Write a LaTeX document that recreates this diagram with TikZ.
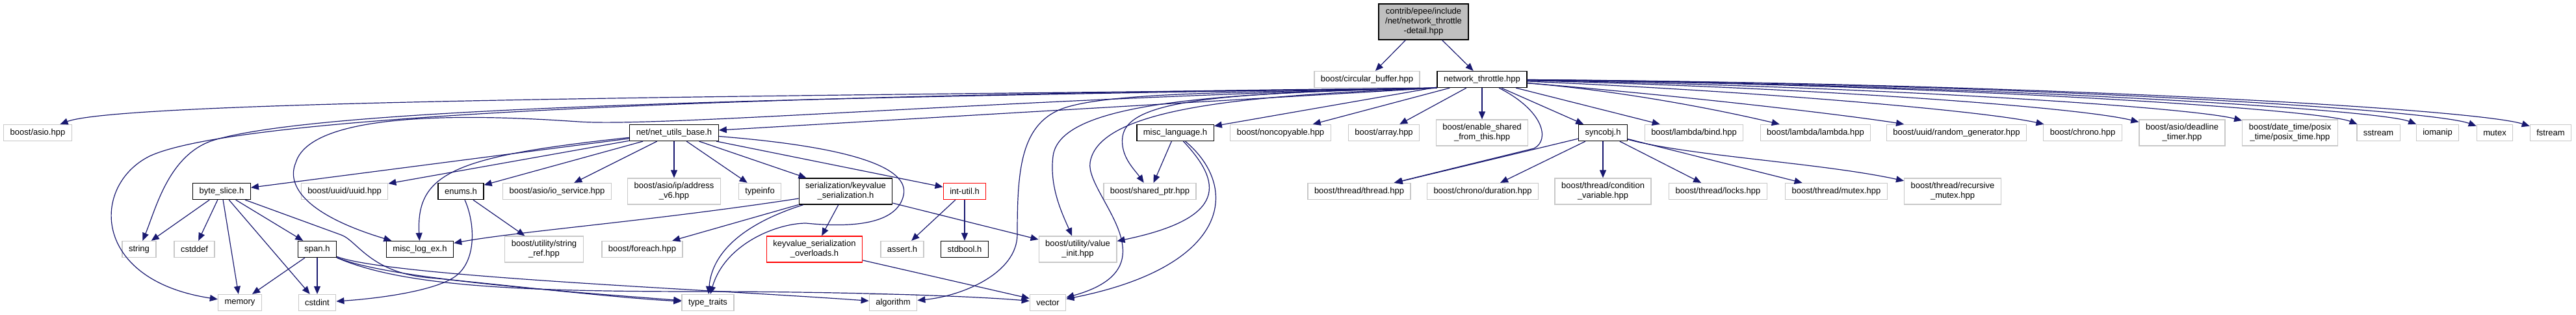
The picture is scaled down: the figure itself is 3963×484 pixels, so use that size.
\documentclass[tikz,border=0pt]{standalone}
\usepackage{fontspec}
\setmainfont{Liberation Sans}
\usepackage{xcolor}
\usepackage{tikz}
\usetikzlibrary{shapes,arrows.meta,positioning}
\definecolor{edgeblue}{RGB}{25,25,112}
\definecolor{sysframe}{RGB}{200,200,200}
\definecolor{mainfill}{RGB}{191,191,191}
\tikzset{
    file/.style = {rectangle, draw=sysframe, line width=1.3pt, fill=white, inner xsep=10pt, inner ysep=0pt, minimum height=25pt, align=center, font=\fontsize{13}{15}\selectfont},
    docfile/.style = {file, draw=black},
    cutfile/.style = {file, draw=red},
    topfile/.style = {file, draw=black, fill=mainfill, minimum height=55pt},
    two/.style = {minimum height=40pt},
    inc/.style = {->, draw=edgeblue, line width=1.2pt}
}

\begin{document}
\begin{tikzpicture}[x=1pt, y=-1pt, >={Triangle[length=12pt,width=10pt]}]
    \useasboundingbox (0,0) rectangle (3963,484);

    % Nodes
    \node [topfile] (main) at (2190,33.5) {contrib/epee/include\\/net/network\_throttle\\-detail.hpp};
    \node [file] (circbuf) at (2103,122) {boost/circular\_buffer.hpp};
    \node [docfile] (nt) at (2280,122) {network\_throttle.hpp};

    \node [file] (asio) at (58,204) {boost/asio.hpp};
    \node [docfile] (nub) at (1037,204) {net/net\_utils\_base.h};
    \node [docfile] (mlang) at (1808,204) {misc\_language.h};
    \node [file] (noncopy) at (1970,204) {boost/noncopyable.hpp};
    \node [file] (array) at (2129,204) {boost/array.hpp};
    \node [file, two] (esft) at (2280,204) {boost/enable\_shared\\\_from\_this.hpp};
    \node [docfile] (sync) at (2466,204) {syncobj.h};
    \node [file] (lbind) at (2606,204) {boost/lambda/bind.hpp};
    \node [file] (llambda) at (2793,204) {boost/lambda/lambda.hpp};
    \node [file] (uuidgen) at (3010,204) {boost/uuid/random\_generator.hpp};
    \node [file] (chrono) at (3204,204) {boost/chrono.hpp};
    \node [file, two] (deadline) at (3357,204) {boost/asio/deadline\\\_timer.hpp};
    \node [file, two] (posix) at (3523,204) {boost/date\_time/posix\\\_time/posix\_time.hpp};
    \node [file] (sstream) at (3659,204) {sstream};
    \node [file] (iomanip) at (3750,204) {iomanip};
    \node [file] (mutex) at (3838,204) {mutex};
    \node [file] (fstream) at (3924,204) {fstream};

    \node [docfile] (byteslice) at (341,294) {byte\_slice.h};
    \node [file] (uuid) at (530,294) {boost/uuid/uuid.hpp};
    \node [docfile] (enums) at (709,294) {enums.h};
    \node [file] (ioserv) at (857,294) {boost/asio/io\_service.hpp};
    \node [file, two] (addr6) at (1037,294) {boost/asio/ip/address\\\_v6.hpp};
    \node [file] (typeinfo) at (1169,294) {typeinfo};
    \node [docfile, two] (kvser) at (1301,294) {serialization/keyvalue\\\_serialization.h};
    \node [cutfile] (intutil) at (1484,294) {int-util.h};
    \node [file] (sharedptr) at (1769,294) {boost/shared\_ptr.hpp};
    \node [file] (thread) at (2091,294) {boost/thread/thread.hpp};
    \node [file] (duration) at (2281,294) {boost/chrono/duration.hpp};
    \node [file, two] (condvar) at (2466,294) {boost/thread/condition\\\_variable.hpp};
    \node [file] (locks) at (2643,294) {boost/thread/locks.hpp};
    \node [file] (tmutex) at (2825,294) {boost/thread/mutex.hpp};
    \node [file, two] (recmutex) at (3004,294) {boost/thread/recursive\\\_mutex.hpp};

    \node [file] (string) at (214,383) {string};
    \node [file] (cstddef) at (299,383) {cstddef};
    \node [docfile] (span) at (488,383) {span.h};
    \node [docfile] (misclog) at (646,383) {misc\_log\_ex.h};
    \node [file, two] (strref) at (837,383) {boost/utility/string\\\_ref.hpp};
    \node [file] (foreach) at (988,383) {boost/foreach.hpp};
    \node [cutfile, two] (kvover) at (1253,383) {keyvalue\_serialization\\\_overloads.h};
    \node [file] (assert) at (1388,383) {assert.h};
    \node [docfile] (stdbool) at (1484,383) {stdbool.h};
    \node [file, two] (valinit) at (1658,383) {boost/utility/value\\\_init.hpp};

    \node [file] (memory) at (369,465) {memory};
    \node [file] (cstdint) at (488,465) {cstdint};
    \node [file] (typetraits) at (1089,465) {type\_traits};
    \node [file] (algorithm) at (1374,465) {algorithm};
    \node [file] (vector) at (1612,465) {vector};

    % Arrows
    \draw [inc] (main) -- (circbuf);
    \draw [inc] (main) -- (nt);

    % network_throttle.hpp
    \draw [inc] (nt.south west) .. controls (1500,146) and (200,150) .. (asio);
    \draw [inc] (nt.south west) .. controls (1300,144) and (380,170) .. (230,240) .. controls (140,285) and (140,430) .. (memory);
    \draw [inc] (nt.south west) .. controls (1200,150) and (500,165) .. (330,215) .. controls (260,236) and (240,320) .. (string);
    \draw [inc] (nt.south west) .. controls (1600,148) and (1020,196) .. (890,187) .. controls (760,178) and (480,165) .. (455,250) .. controls (440,285) and (470,330) .. (misclog);
    \draw [inc] (nt.south west) -- (nub);
    \draw [inc] (nt.south west) .. controls (1950,142) and (1720,140) .. (1640,165) .. controls (1570,187) and (1565,260) .. (1565,360) .. controls (1565,420) and (1480,455) .. (algorithm);
    \draw [inc] (nt.south west) .. controls (1850,143) and (1630,160) .. (1620,240) .. controls (1614,288) and (1635,330) .. (valinit);
    \draw [inc] (nt.south west) .. controls (1950,146) and (1690,160) .. (1677,250) .. controls (1670,300) and (1810,410) .. (vector);
    \draw [inc] (nt.south west) .. controls (1900,143) and (1735,150) .. (1727,210) .. controls (1723,240) and (1745,260) .. (sharedptr);
    \draw [inc] (nt) -- (mlang);
    \draw [inc] (nt) -- (noncopy);
    \draw [inc] (nt) -- (array);
    \draw [inc] (nt) -- (esft);
    \draw [inc] (nt) .. controls (2375,170) and (2385,215) .. (2360,228) -- (thread);
    \draw [inc] (nt) -- (sync);
    \draw [inc] (nt) -- (lbind);
    \draw [inc] (nt) .. controls (2500,140) and (2650,170) .. (llambda);
    \draw [inc] (nt) .. controls (2600,148) and (2850,178) .. (uuidgen);
    \draw [inc] (nt) .. controls (2700,140) and (3050,170) .. (chrono);
    \draw [inc] (nt) .. controls (2800,135) and (3200,165) .. (deadline);
    \draw [inc] (nt) .. controls (2900,133) and (3370,165) .. (posix);
    \draw [inc] (nt) .. controls (3000,130) and (3570,168) .. (sstream);
    \draw [inc] (nt) .. controls (3050,130) and (3660,168) .. (iomanip);
    \draw [inc] (nt) .. controls (3100,128) and (3740,168) .. (mutex);
    \draw [inc] (nt) .. controls (3150,128) and (3810,168) .. (fstream);

    % net_utils_base.h
    \draw [inc] (nub) -- (byteslice);
    \draw [inc] (nub) -- (uuid);
    \draw [inc] (nub) .. controls (700,240) and (640,265) .. (misclog);
    \draw [inc] (nub) -- (enums);
    \draw [inc] (nub) -- (ioserv);
    \draw [inc] (nub) -- (addr6);
    \draw [inc] (nub) -- (typeinfo);
    \draw [inc] (nub) -- (kvser);
    \draw [inc] (nub) -- (intutil);
    \draw [inc] (nub) .. controls (1300,225) and (1400,255) .. (1390,300) .. controls (1380,345) and (1310,350) .. (1240,343) .. controls (1195,343) and (1115,375) .. (typetraits);

    % byte_slice.h and span.h
    \draw [inc] (byteslice) -- (string);
    \draw [inc] (byteslice) -- (cstddef);
    \draw [inc] (byteslice) -- (memory);
    \draw [inc] (byteslice) -- (cstdint);
    \draw [inc] (byteslice) -- (span);
    \draw [inc] (byteslice) -- (525,361) .. controls (550,370) and (570,420) .. (663,427) .. controls (740,434) and (950,458) .. (typetraits);
    \draw [inc] (span) -- (memory);
    \draw [inc] (span) -- (cstdint);
    \draw [inc] (span) .. controls (600,430) and (900,450) .. (typetraits);
    \draw [inc] (span) .. controls (600,425) and (1100,445) .. (algorithm);
    \draw [inc] (span) .. controls (620,440) and (800,448) .. (1080,448) .. controls (1300,448) and (1500,455) .. (vector);

    % enums.h
    \draw [inc] (enums) -- (strref);
    \draw [inc] (enums) .. controls (730,340) and (735,400) .. (700,425) .. controls (670,446) and (590,458) .. (cstdint);

    % keyvalue_serialization.h
    \draw [inc] (kvser) .. controls (1000,340) and (800,355) .. (misclog);
    \draw [inc] (kvser) -- (foreach);
    \draw [inc] (kvser) .. controls (1140,345) and (1095,390) .. (typetraits);
    \draw [inc] (kvser) -- (kvover);
    \draw [inc] (kvser) -- (valinit);
    \draw [inc] (kvover) -- (vector);

    % int-util.h
    \draw [inc] (intutil) -- (assert);
    \draw [inc] (intutil) -- (stdbool);

    % misc_language.h
    \draw [inc] (mlang) -- (sharedptr);
    \draw [inc] (mlang) .. controls (1880,280) and (1890,335) .. (valinit);
    \draw [inc] (mlang) .. controls (1910,290) and (1890,410) .. (vector);

    % syncobj.h
    \draw [inc] (sync) -- (thread);
    \draw [inc] (sync) -- (duration);
    \draw [inc] (sync) -- (condvar);
    \draw [inc] (sync) -- (locks);
    \draw [inc] (sync) -- (tmutex);
    \draw [inc] (sync) .. controls (2600,240) and (2800,250) .. (recmutex);
\end{tikzpicture}
\end{document}
